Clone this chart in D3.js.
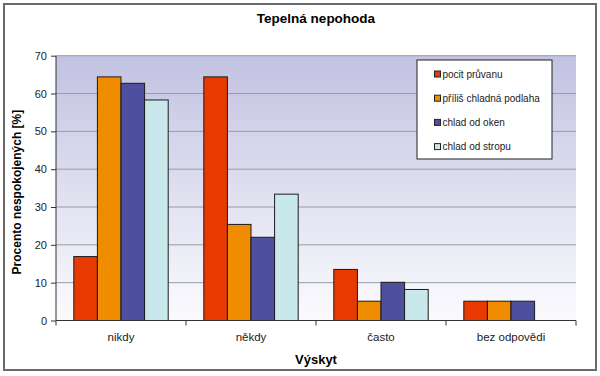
<!DOCTYPE html>
<html><head><meta charset="utf-8">
<script src="https://cdn.jsdelivr.net/npm/d3@7/dist/d3.min.js"></script>
<style>body{margin:0;background:#fff}svg{display:block;font-family:"Liberation Sans",Arial,sans-serif}</style>
</head><body>
<svg id="c" width="600" height="376"></svg>
<script>
const categories = ["nikdy", "někdy", "často", "bez odpovědi"];
const seriesNames = ["pocit průvanu", "příliš chladná podlaha", "chlad od oken", "chlad od stropu"];
const pocitPruvanu = [16.9, 64.4, 13.5, 5.1];
const chladnaPodlaha = [64.4, 25.4, 5.1, 5.1];
const chladOdOken = [62.7, 22.0, 10.1, 5.1];
const chladOdStropu = [58.3, 33.4, 8.2, 0];
const yTicks = [0, 10, 20, 30, 40, 50, 60, 70];
const colors = ["#e83a00", "#f08c00", "#4f4fa0", "#c8e8ec"];

const seriesValues = [pocitPruvanu, chladnaPodlaha, chladOdOken, chladOdStropu];
const svg = d3.select("#c");
const L = 56, R = 576, T = 55.7, B = 320.5;
const FF = "Liberation Sans, Arial, sans-serif";

// frame
svg.append("rect").attr("x", 4).attr("y", 4).attr("width", 592).attr("height", 366)
  .attr("fill", "#fff").attr("stroke", "#6a6a6a").attr("stroke-width", 2);

const defs = svg.append("defs");
const g = defs.append("linearGradient").attr("id", "bg").attr("x1", 0).attr("y1", 0).attr("x2", 0).attr("y2", 1);
g.append("stop").attr("offset", "0%").attr("stop-color", "#c2c2e2");
g.append("stop").attr("offset", "100%").attr("stop-color", "#fbfbfe");

svg.append("rect").attr("x", L).attr("y", T).attr("width", R - L).attr("height", B - T).attr("fill", "url(#bg)");

const y = d3.scaleLinear().domain([0, 70]).range([B, T]);
const x0 = d3.scaleBand().domain(categories).range([L, R]).paddingInner(0.274).paddingOuter(0.137);
const x1 = d3.scaleBand().domain(seriesNames).range([0, x0.bandwidth()]);

// gridlines
svg.append("g").selectAll("line").data(yTicks.filter(d => d > 0)).join("line")
  .attr("x1", L).attr("x2", R).attr("y1", d => y(d)).attr("y2", d => y(d))
  .attr("stroke", "#9a9aa8").attr("stroke-width", 1);

// bars
const rows = categories.map((c, i) => ({ c, vals: seriesNames.map((s, j) => ({ s, j, v: seriesValues[j][i] })) }));
svg.append("g").selectAll("g").data(rows).join("g")
  .attr("transform", d => `translate(${x0(d.c)},0)`)
  .selectAll("rect").data(d => d.vals.filter(e => e.v > 0)).join("rect")
  .attr("x", d => x1(d.s)).attr("width", x1.bandwidth())
  .attr("y", d => y(d.v)).attr("height", d => y(0) - y(d.v))
  .attr("fill", d => colors[d.j]).attr("stroke", "#1a1a1a").attr("stroke-width", 1);

// y axis
const yAxis = d3.axisLeft(y).tickValues(yTicks).tickSize(5).tickPadding(4);
const ya = svg.append("g").attr("transform", `translate(${L},0)`).call(yAxis);
ya.attr("font-family", FF);
ya.select(".domain").attr("stroke", "#333").attr("d", `M-0,${T}V${B}`);
ya.selectAll(".tick line").attr("stroke", "#333");
ya.selectAll("text").attr("font-size", 11).attr("fill", "#222");

// x axis
const xa = svg.append("g").attr("transform", `translate(0,${B})`);
xa.append("line").attr("x1", L).attr("x2", R).attr("stroke", "#333");
const bounds = categories.map(c => x0(c) - x0.step() * x0.paddingInner() / 2).concat([R]);
xa.selectAll("line.t").data(bounds).join("line").attr("class", "t")
  .attr("x1", d => d).attr("x2", d => d).attr("y1", 0).attr("y2", 5).attr("stroke", "#333");
xa.selectAll("text").data(categories).join("text")
  .attr("x", d => x0(d) + x0.bandwidth() / 2).attr("y", 20).attr("text-anchor", "middle")
  .attr("font-size", 11.5).attr("fill", "#222").text(d => d);

// titles
svg.append("text").attr("x", 316).attr("y", 23).attr("text-anchor", "middle")
  .attr("font-size", 13.5).attr("font-weight", "bold").text("Tepelná nepohoda");
svg.append("text").attr("x", 316).attr("y", 364).attr("text-anchor", "middle")
  .attr("font-size", 13).attr("font-weight", "bold").text("Výskyt");
svg.append("text").attr("transform", `translate(21,${(T + B) / 2 + 4}) rotate(-90)`).attr("text-anchor", "middle")
  .attr("font-size", 12).attr("font-weight", "bold").text("Procento nespokojených [%]");

// legend
const lg = svg.append("g");
lg.append("rect").attr("x", 417).attr("y", 60).attr("width", 135).attr("height", 99)
  .attr("fill", "#fff").attr("stroke", "#222").attr("stroke-width", 1);
const items = lg.selectAll("g").data(seriesNames).join("g")
  .attr("transform", (d, i) => `translate(434,${74 + i * 24.2})`);
items.append("rect").attr("x", 0.5).attr("y", -3).attr("width", 6).attr("height", 6)
  .attr("fill", (d, i) => colors[i]).attr("stroke", "#222").attr("stroke-width", 1);
items.append("text").attr("x", 8.5).attr("y", 3.5).attr("font-size", 10).attr("fill", "#222").text(d => d);
</script>
</body></html>
